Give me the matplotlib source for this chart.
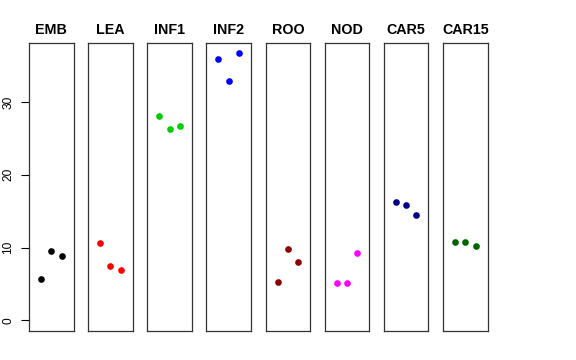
import matplotlib
matplotlib.use("Agg")
import matplotlib.pyplot as plt

plt.rcParams["font.family"] = ["Liberation Sans", "DejaVu Sans"]

# tissue names and colours (one panel each)
tissues = ["EMB", "LEA", "INF1", "INF2", "ROO", "NOD", "CAR5", "CAR15"]
colours = ["black", "#FF0000", "#00CD00", "#0000FF", "#8B0000", "#FF00FF", "#00008B", "#006400"]

# three replicate values per tissue
emb = [5.64, 9.53, 8.89]
lea = [10.67, 7.51, 6.96]
inf1 = [28.0, 26.27, 26.73]
inf2 = [35.94, 32.87, 36.67]
roo = [5.27, 9.77, 8.06]
nod = [5.17, 5.17, 9.30]
car5 = [16.27, 15.82, 14.48]
car15 = [10.77, 10.73, 10.18]
all_vals = [emb, lea, inf1, inf2, roo, nod, car5, car15]

reps = [1, 2, 3]
y_ticks = [0, 10, 20, 30]

fig = plt.figure(figsize=(5.76, 3.6), dpi=100)

W, H = 576.0, 360.0
top_px, bot_px = 42.7, 331.0
width_px = 44.6
step_px = 59.14
ymax = max(max(v) for v in all_vals)
pad = 0.04 * ymax

for i, name in enumerate(tissues):
    left_px = 29.0 + i * step_px
    ax = fig.add_axes([left_px / W, (H - bot_px) / H, width_px / W, (bot_px - top_px) / H])
    ax.plot(reps, all_vals[i], "o", color=colours[i], ms=4.8, mec="none")
    ax.set_xlim(-0.16, 4.16)
    ax.set_ylim(-pad, ymax + pad)
    ax.set_xticks([])
    ax.set_title(name, fontsize=10.3, fontweight="bold", pad=6)
    for s in ax.spines.values():
        s.set_linewidth(0.9)
        s.set_color("#333333")
    if i == 0:
        ax.set_yticks(y_ticks)
        ax.set_yticklabels([str(t) for t in y_ticks], rotation=90, va="center", fontsize=8.6)
        ax.tick_params(axis="y", length=6, width=0.8, pad=4.5)
    else:
        ax.set_yticks([])

plt.savefig("out.png", dpi=100)
